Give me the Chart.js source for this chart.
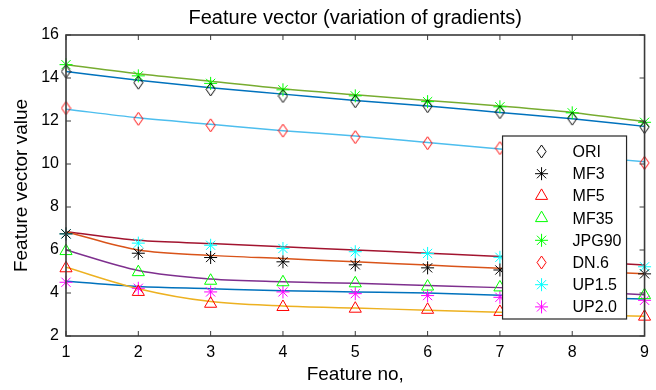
<!DOCTYPE html>
<html>
<head>
<meta charset="utf-8">
<script src="https://cdn.jsdelivr.net/npm/chart.js@4.4.0/dist/chart.umd.min.js"></script>
<style>
  html, body { margin: 0; padding: 0; background: #fff; }
  #wrap { width: 656px; height: 390px; }
</style>
</head>
<body>
<div id="wrap"><canvas id="c" width="656" height="390"></canvas></div>
<script>
// feature index on x axis
const features = [1, 2, 3, 4, 5, 6, 7, 8, 9]
const yTicks = [2, 4, 6, 8, 10, 12, 14, 16]

// marker values
const ori   = [14.30, 13.78, 13.47, 13.16, 12.92, 12.69, 12.41, 12.11, 11.72]
const mf3   = [6.75, 5.85, 5.65, 5.45, 5.31, 5.17, 5.07, 5.00, 4.89]
const mf5   = [5.15, 4.05, 3.50, 3.35, 3.27, 3.22, 3.12, 3.02, 2.90]
const mf35  = [5.95, 4.97, 4.57, 4.50, 4.45, 4.30, 4.26, 4.15, 3.90]
const jpg90 = [14.62, 14.10, 13.75, 13.45, 13.17, 12.90, 12.66, 12.38, 11.94]
const dn6   = [12.60, 12.10, 11.80, 11.55, 11.25, 10.97, 10.74, 10.45, 10.05]
const up15  = [6.75, 6.32, 6.22, 6.07, 5.92, 5.84, 5.66, 5.50, 5.22]
const up20  = [4.50, 4.22, 4.05, 4.05, 3.97, 3.88, 3.80, 3.75, 3.66]

// fitted curves (at each feature)
const oriFit   = [14.30, 13.90, 13.55, 13.25, 12.95, 12.70, 12.40, 12.10, 11.75]
const mf3Fit   = [6.85, 6.00, 5.75, 5.60, 5.45, 5.30, 5.15, 5.02, 4.90]
const mf5Fit   = [5.20, 4.20, 3.60, 3.40, 3.30, 3.20, 3.10, 3.00, 2.92]
const mf35Fit  = [6.00, 5.05, 4.65, 4.52, 4.45, 4.35, 4.25, 4.10, 3.92]
const jpg90Fit = [14.62, 14.20, 13.85, 13.50, 13.22, 12.95, 12.70, 12.40, 11.97]
const dn6Fit   = [12.55, 12.15, 11.85, 11.55, 11.30, 11.00, 10.70, 10.40, 10.10]
const up15Fit  = [6.85, 6.45, 6.30, 6.15, 6.00, 5.85, 5.70, 5.50, 5.30]
const up20Fit  = [4.55, 4.30, 4.20, 4.10, 4.05, 4.00, 3.90, 3.80, 3.72]

const names = ['ORI', 'MF3', 'MF5', 'MF35', 'JPG90', 'DN.6', 'UP1.5', 'UP2.0']
const markerData = [ori, mf3, mf5, mf35, jpg90, dn6, up15, up20]
const fitData = [oriFit, mf3Fit, mf5Fit, mf35Fit, jpg90Fit, dn6Fit, up15Fit, up20Fit]

// elongated matlab style diamond
function diamond(color) {
  const cv = document.createElement('canvas')
  cv.width = 11
  cv.height = 15
  const g = cv.getContext('2d')
  g.strokeStyle = color
  g.lineWidth = 1
  g.beginPath()
  g.moveTo(5.5, 1)
  g.lineTo(10, 7.5)
  g.lineTo(5.5, 14)
  g.lineTo(1, 7.5)
  g.closePath()
  g.stroke()
  return cv
}

const markerStyle = [diamond('#000000'), 'star', 'triangle', 'triangle', 'star', diamond('#ff0000'), 'star', 'star']
const markerColor = ['#000000', '#000000', '#ff0000', '#00ff00', '#00ff00', '#ff0000', '#00ffff', '#ff00ff']
const lineColor = ['#0072bd', '#d95319', '#edb120', '#7e2f8e', '#77ac30', '#4dbeee', '#a2142f', '#0072bd']

const markerRadius = s => s === 'triangle' ? 7 : 6.5

const toXY = arr => arr.map((v, i) => ({ x: features[i], y: v }))

const datasets = []
names.forEach((n, i) => {
  datasets.push({
    label: n + ' fit',
    data: toXY(fitData[i]),
    borderColor: lineColor[i],
    borderWidth: 1.5,
    pointRadius: 0,
    fill: false,
    cubicInterpolationMode: 'monotone',
    order: 2,
  })
  datasets.push({
    label: n,
    data: toXY(markerData[i]),
    showLine: false,
    clip: false,
    pointStyle: markerStyle[i],
    pointRadius: markerRadius(markerStyle[i]),
    pointBorderColor: markerColor[i],
    pointBackgroundColor: 'rgba(0,0,0,0)',
    pointBorderWidth: 1,
    borderColor: markerColor[i],
    order: 1,
  })
})

const font = "'Liberation Sans', Arial, sans-serif"

const matlabBox = {
  id: 'matlabBox',
  afterDatasetsDraw(chart) {
    const { ctx, chartArea: a, scales } = chart
    ctx.save()
    ctx.strokeStyle = '#3a3a3a'
    ctx.lineWidth = 1.6
    ctx.strokeRect(a.left, a.top, a.right - a.left, a.bottom - a.top)
    ctx.lineWidth = 1
    const tl = 5
    features.forEach(f => {
      const x = scales.x.getPixelForValue(f)
      ctx.beginPath()
      ctx.moveTo(x, a.bottom); ctx.lineTo(x, a.bottom - tl)
      ctx.moveTo(x, a.top); ctx.lineTo(x, a.top + tl)
      ctx.stroke()
    })
    yTicks.forEach(t => {
      const y = scales.y.getPixelForValue(t)
      ctx.beginPath()
      ctx.moveTo(a.left, y); ctx.lineTo(a.left + tl, y)
      ctx.moveTo(a.right, y); ctx.lineTo(a.right - tl, y)
      ctx.stroke()
    })

    // legend box inside the axes
    const lx = a.right - 142
    const ly = a.top + 101
    const lw = 124
    const lh = 183
    ctx.fillStyle = '#ffffff'
    ctx.fillRect(lx, ly, lw, lh)
    ctx.strokeStyle = '#262626'
    ctx.lineWidth = 1.2
    ctx.strokeRect(lx, ly, lw, lh)
    ctx.font = '16px ' + font
    ctx.textBaseline = 'middle'
    ctx.textAlign = 'left'
    names.forEach((n, i) => {
      const y = ly + 15.5 + i * 22.2
      const mx = lx + 39
      const opts = {
        pointStyle: markerStyle[i],
        radius: markerRadius(markerStyle[i]),
        borderWidth: 1,
        rotation: 0,
      }
      ctx.strokeStyle = markerColor[i]
      ctx.fillStyle = 'rgba(0,0,0,0)'
      ctx.lineWidth = 1
      if (Chart.helpers && Chart.helpers.drawPoint) {
        Chart.helpers.drawPoint(ctx, opts, mx, y)
      }
      ctx.fillStyle = '#000000'
      ctx.fillText(n, lx + 70, y + 1)
    })
    ctx.restore()
  }
}

new Chart(document.getElementById('c').getContext('2d'), {
  type: 'line',
  data: { datasets: datasets },
  plugins: [matlabBox],
  options: {
    responsive: false,
    animation: false,
    layout: { padding: { right: 11, top: 0, left: 0, bottom: 0 } },
    scales: {
      x: {
        type: 'linear',
        min: 1,
        max: 9,
        grid: { display: false, drawTicks: false },
        border: { display: false },
        ticks: {
          stepSize: 1,
          padding: 7,
          color: '#000',
          font: { family: font, size: 16 },
        },
        title: {
          display: true,
          text: 'Feature no,',
          color: '#000',
          font: { family: font, size: 19 },
          padding: { top: 0, bottom: 3.5 },
        },
        afterFit(scale) { scale.height = 54 },
      },
      y: {
        min: 2,
        max: 16,
        grid: { display: false, drawTicks: false },
        border: { display: false },
        ticks: {
          stepSize: 2,
          padding: 7,
          color: '#000',
          font: { family: font, size: 16 },
        },
        title: {
          display: true,
          text: 'Feature vector value',
          color: '#000',
          font: { family: font, size: 19 },
          padding: { top: 10, bottom: 0 },
        },
        afterFit(scale) { scale.width = 66 },
      },
    },
    plugins: {
      legend: { display: false },
      tooltip: { enabled: false },
      title: {
        display: true,
        text: 'Feature vector (variation of gradients)',
        fullSize: false,
        color: '#000',
        font: { family: font, size: 20, weight: 'normal' },
        padding: { top: 6.5, bottom: 4.5 },
      },
    },
  },
})
</script>
</body>
</html>
